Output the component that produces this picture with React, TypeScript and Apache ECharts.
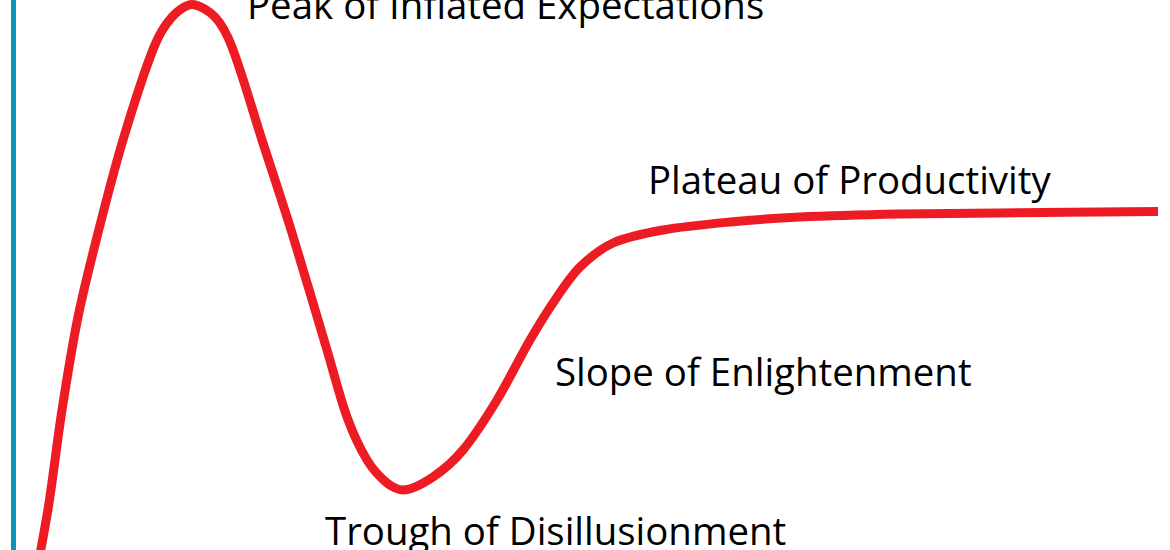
import React, { useEffect, useRef } from "react";
import * as echarts from "echarts";

// Hype cycle curve: time (x) vs. visibility (y)
const timeValues = [25, 36, 49, 65, 85, 110, 141, 159, 179, 202, 219, 249, 279, 314, 334, 354, 374, 390, 420, 450, 484, 517, 544, 567, 600, 650, 717, 787, 887, 987, 1145];
const visibilityValues = [-15, 47, 140, 233, 317, 410, 503, 533, 545.5, 533, 503, 410, 317, 200, 133, 90, 67, 60, 73, 100, 150, 210, 253, 283, 307, 320, 328, 333, 336, 337, 338.5];

const phaseLabels = [
  "Peak of Inflated Expectations",
  "Plateau of Productivity",
  "Slope of Enlightenment",
  "Trough of Disillusionment",
];

export default function App() {
  const ref = useRef<HTMLDivElement>(null);
  useEffect(() => {
    document.body.style.margin = "0";
    const chart = echarts.init(ref.current!, null, { renderer: "svg" });
    const data = timeValues.map((t, i) => [t, visibilityValues[i]]);
    const font = "Open Sans";
    const fs = 38.4;
    const pos = [
      [247, 4],
      [648, 179],
      [555, 371],
      [325, 530],
    ];
    chart.setOption({
      animation: false,
      backgroundColor: "#ffffff",
      grid: { left: 13, right: 0, top: 0, bottom: 0 },
      xAxis: {
        type: "value",
        min: 0,
        max: 1157,
        show: false,
      },
      yAxis: {
        type: "value",
        min: 0,
        max: 550,
        axisLine: { show: true, lineStyle: { color: "#0e95b6", width: 5 } },
        axisTick: { show: false },
        axisLabel: { show: false },
        splitLine: { show: false },
      },
      series: [
        {
          type: "line",
          data,
          smooth: 0.3,
          symbol: "none",
          clip: true,
          lineStyle: { color: "#ed1c24", width: 9, cap: "butt", join: "round" },
        },
      ],
      graphic: phaseLabels.map((label, i) => ({
        type: "text",
        x: pos[i][0],
        y: pos[i][1],
        style: {
          text: label,
          fill: "#000000",
          font: `${fs}px "${font}"`,
          verticalAlign: "middle",
          align: "left",
        },
      })),
    });
    return () => chart.dispose();
  }, []);
  return <div ref={ref} style={{ width: 1170, height: 550 }} />;
}
